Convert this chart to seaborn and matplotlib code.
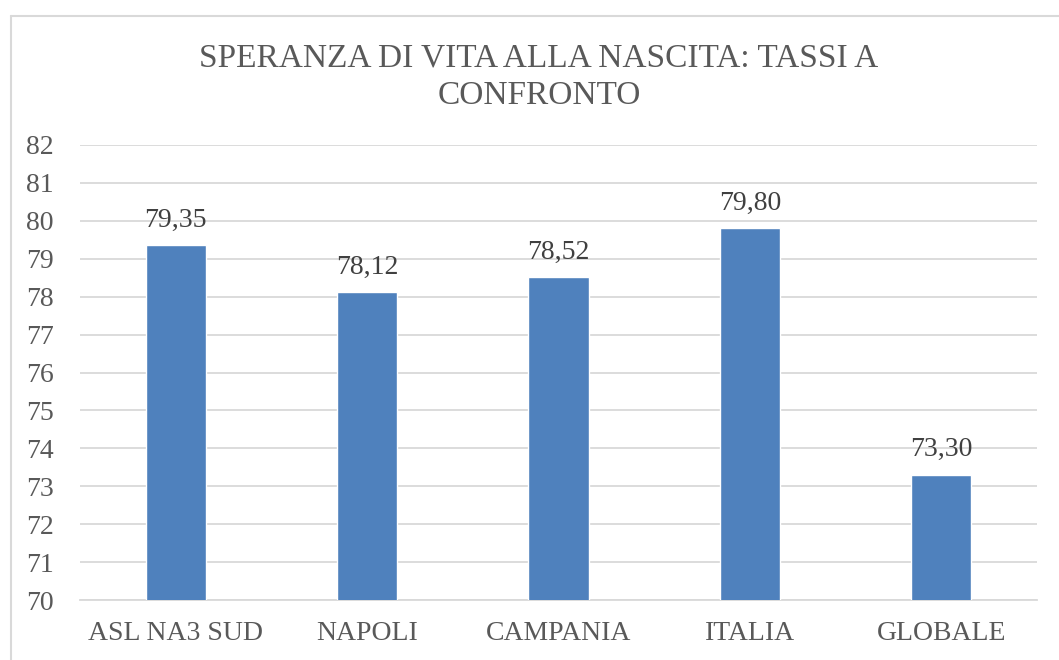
import matplotlib
matplotlib.use("Agg")
import matplotlib.pyplot as plt
import pandas as pd
import seaborn as sns
from matplotlib.lines import Line2D

categories = ["ASL NA3 SUD", "NAPOLI", "CAMPANIA", "ITALIA", "GLOBALE"]
values = [79.35, 78.12, 78.52, 79.80, 73.30]
y_ticks = list(range(70, 83))
title = "SPERANZA DI VITA ALLA NASCITA: TASSI A\nCONFRONTO"

BAR = "#4F81BD"
TEXT = "#595959"
GRID = "#D9D9D9"

sns.set_style("white")
plt.rcParams["font.family"] = ["Liberation Serif", "DejaVu Serif"]

data = pd.DataFrame({"category": categories, "value": values})

fig = plt.figure(figsize=(10.59, 6.6), dpi=100)
ax = fig.add_axes([80 / 1059, 1 - 600 / 660, 957 / 1059, 455 / 660])

sns.barplot(data=data, x="category", y="value", color=BAR, width=0.315,
            saturation=1, ax=ax, zorder=3)

ax.set_ylim(70, 82)
ax.set_yticks(y_ticks)
ax.yaxis.grid(True, color=GRID, linewidth=1.3, zorder=0)
ax.set_axisbelow(True)
for side in ["top", "right", "left"]:
    ax.spines[side].set_visible(False)
ax.spines["bottom"].set_color(GRID)
ax.spines["bottom"].set_linewidth(1.3)
ax.tick_params(axis="both", length=0, labelsize=20, colors=TEXT)
ax.tick_params(axis="x", pad=15)
ax.tick_params(axis="y", pad=19)
ax.set_xlabel("")
ax.set_ylabel("")

for i, v in enumerate(values):
    ax.annotate(f"{v:.2f}".replace(".", ","), (i, v), xytext=(0, 9),
                textcoords="offset points", ha="center", va="bottom",
                fontsize=20, color="#404040")

fig.text(539 / 1059, 1 - 77 / 660, title, ha="center", va="center",
         fontsize=24, color=TEXT, linespacing=1.3)

# chart frame (partially visible)
fig.add_artist(Line2D([10.5 / 1059, 10.5 / 1059], [0, 1 - 15.5 / 660],
                      transform=fig.transFigure, color=GRID, linewidth=1.5))
fig.add_artist(Line2D([10.5 / 1059, 1], [1 - 15.5 / 660, 1 - 15.5 / 660],
                      transform=fig.transFigure, color=GRID, linewidth=1.5))

fig.savefig("out.png", dpi=100)
plt.close(fig)
